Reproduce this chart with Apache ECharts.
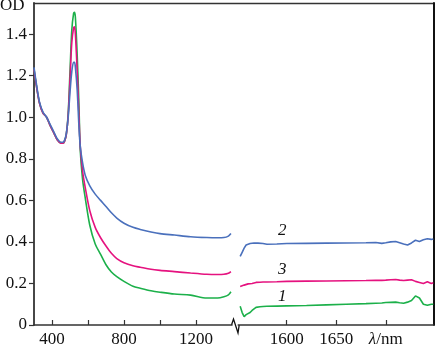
<!DOCTYPE html>
<html>
<head>
<meta charset="utf-8">
<script src="https://cdn.jsdelivr.net/npm/echarts@6/dist/echarts.min.js"></script>
<style>html,body{margin:0;padding:0;background:#fff}#c{width:436px;height:349px}</style>
</head>
<body>
<div id="c"></div>
<script>
// ---- Data ----
const wlLeft = [300,310,330,350,370,390,410,430,450,460,470,480,490,500,510,520,525,530,540,550,557,570,585,610,640,670,700,730,760,800,850,890,950,1000,1080,1170,1260,1320,1355,1380,1394];
const od1Left = [1.23,1.17,1.07,1.02,1.0,0.96,0.925,0.89,0.875,0.875,0.885,0.92,1.02,1.22,1.42,1.50,1.505,1.48,1.30,1.05,0.84,0.70,0.61,0.48,0.39,0.34,0.29,0.255,0.233,0.21,0.186,0.177,0.165,0.158,0.149,0.144,0.13,0.13,0.136,0.145,0.16];
const od3Left = [1.23,1.17,1.07,1.02,1.0,0.96,0.925,0.89,0.875,0.875,0.885,0.92,1.01,1.18,1.36,1.43,1.435,1.40,1.22,1.0,0.86,0.74,0.66,0.55,0.47,0.42,0.38,0.345,0.32,0.30,0.285,0.278,0.268,0.263,0.257,0.25,0.244,0.243,0.244,0.249,0.257];
const od2Left = [1.24,1.18,1.075,1.025,1.0,0.965,0.93,0.895,0.88,0.88,0.89,0.925,1.0,1.12,1.22,1.265,1.265,1.24,1.13,0.95,0.86,0.78,0.72,0.67,0.63,0.60,0.57,0.54,0.515,0.49,0.47,0.46,0.448,0.44,0.433,0.425,0.421,0.42,0.421,0.428,0.44];
const wlRight = [1553,1555,1557,1559,1561,1563,1565,1567,1569,1571,1573,1576,1580,1590,1600,1620,1640,1660,1680,1690,1696,1700,1705,1710,1714,1718,1722,1726,1730,1734,1738,1742,1746,1748];
const od2Right = [0.33,0.35,0.37,0.385,0.38,0.392,0.385,0.395,0.387,0.394,0.388,0.392,0.389,0.39,0.392,0.393,0.394,0.395,0.396,0.397,0.393,0.396,0.4,0.402,0.396,0.39,0.385,0.395,0.408,0.402,0.41,0.415,0.412,0.414];
const od3Right = [0.185,0.19,0.192,0.195,0.198,0.2,0.2,0.203,0.205,0.205,0.206,0.207,0.207,0.208,0.21,0.211,0.212,0.213,0.214,0.215,0.215,0.216,0.218,0.219,0.216,0.214,0.216,0.218,0.21,0.205,0.2,0.208,0.2,0.203];
const od1Right = [0.09,0.06,0.04,0.05,0.055,0.06,0.07,0.075,0.085,0.086,0.088,0.089,0.09,0.091,0.092,0.094,0.097,0.1,0.103,0.105,0.106,0.108,0.109,0.11,0.107,0.105,0.11,0.118,0.14,0.13,0.1,0.095,0.1,0.1];
const xTicksLeft = [400,600,800,1000,1200];
const xLabelsLeft = [400,800,1200];
const xTicksRight = [1600,1650,1700];
const yTicks = [0,0.2,0.4,0.6,0.8,1.0,1.2,1.4];
const seriesNames = ['1','2','3'];

const C1 = '#1cb04a', C2 = '#4a70bc', C3 = '#e5127f';
const serif = 'Liberation Serif';
const zip = (a, b) => a.map((v, i) => [v, b[i]]);

const axisCol = '#333';
const lineS = (c) => ({ color: c, width: 1.6 });
const txt = (s, x, y, italic) => ({ type: 'text', left: x, top: y,
  style: { text: s, fontFamily: serif, fontSize: 17, fontStyle: italic ? 'italic' : 'normal', fill: '#111' } });

const chart = echarts.init(document.getElementById('c'), null, { renderer: 'canvas' });
chart.setOption({
  animation: false,
  backgroundColor: '#fff',
  grid: [
    { left: 34, top: 3, width: 198, height: 322 },
    { left: 238.2, top: 3, right: 2.7, height: 322 }
  ],
  xAxis: [
    { gridIndex: 0, type: 'value', min: 300, max: 1400,
      axisLine: { show: true, onZero: false, lineStyle: { color: axisCol, width: 1.5 } },
      axisTick: { show: true, inside: true, length: 5, customValues: xTicksLeft, lineStyle: { color: axisCol, width: 1.2 } },
      axisLabel: { customValues: xLabelsLeft, fontFamily: serif, fontSize: 17, color: '#111', margin: 6, formatter: (v) => String(v) },
      splitLine: { show: false } },
    { gridIndex: 1, type: 'value', min: 1551, max: 1748,
      axisLine: { show: true, onZero: false, lineStyle: { color: axisCol, width: 1.5 } },
      axisTick: { show: true, inside: true, length: 5, customValues: xTicksRight, lineStyle: { color: axisCol, width: 1.2 } },
      axisLabel: { customValues: xTicksRight, fontFamily: serif, fontSize: 17, color: '#111', margin: 6,
        formatter: (v) => v === 1700 ? '{i|λ}/nm' : String(v),
        rich: { i: { fontFamily: serif, fontSize: 17, fontStyle: 'italic', color: '#111' } } },
      splitLine: { show: false } }
  ],
  yAxis: [
    { gridIndex: 0, type: 'value', min: 0, max: 1.55,
      axisLine: { show: true, onZero: false, lineStyle: { color: axisCol, width: 1.8 } },
      axisTick: { show: true, inside: false, length: 5, customValues: yTicks, lineStyle: { color: axisCol, width: 1.2 } },
      axisLabel: { customValues: yTicks, fontFamily: serif, fontSize: 17, color: '#111', margin: 7,
        formatter: (v) => v === 0 ? '0' : v.toFixed(1) },
      splitLine: { show: false } },
    { gridIndex: 1, type: 'value', min: 0, max: 1.55, position: 'right',
      axisLine: { show: true, onZero: false, lineStyle: { color: '#111', width: 2 } },
      axisTick: { show: false }, axisLabel: { show: false }, splitLine: { show: false } }
  ],
  series: [
    { name: seriesNames[0], type: 'line', xAxisIndex: 0, yAxisIndex: 0, data: zip(wlLeft, od1Left), showSymbol: false, smooth: 0.3, lineStyle: lineS(C1), z: 3 },
    { name: seriesNames[2], type: 'line', xAxisIndex: 0, yAxisIndex: 0, data: zip(wlLeft, od3Left), showSymbol: false, smooth: 0.3, lineStyle: lineS(C3), z: 4 },
    { name: seriesNames[1], type: 'line', xAxisIndex: 0, yAxisIndex: 0, data: zip(wlLeft, od2Left), showSymbol: false, smooth: 0.3, lineStyle: lineS(C2), z: 5 },
    { name: seriesNames[0], type: 'line', xAxisIndex: 1, yAxisIndex: 1, data: zip(wlRight, od1Right), showSymbol: false, lineStyle: lineS(C1) },
    { name: seriesNames[2], type: 'line', xAxisIndex: 1, yAxisIndex: 1, data: zip(wlRight, od3Right), showSymbol: false, lineStyle: lineS(C3) },
    { name: seriesNames[1], type: 'line', xAxisIndex: 1, yAxisIndex: 1, data: zip(wlRight, od2Right), showSymbol: false, lineStyle: lineS(C2) }
  ],
  graphic: [
    txt('OD', 0, -3, false),
    txt(seriesNames[1], 278, 222, true),
    txt(seriesNames[2], 278, 261, true),
    txt(seriesNames[0], 278, 288, true),
    { type: 'line', shape: { x1: 33.5, y1: 3.5, x2: 434, y2: 3.5 }, style: { stroke: axisCol, lineWidth: 1.5 } },
    { type: 'polyline', shape: { points: [[231.5, 325], [233.5, 319], [238, 333], [239.2, 325]] },
      style: { stroke: '#111', lineWidth: 1.3, fill: null } }
  ]
});
</script>
</body>
</html>
